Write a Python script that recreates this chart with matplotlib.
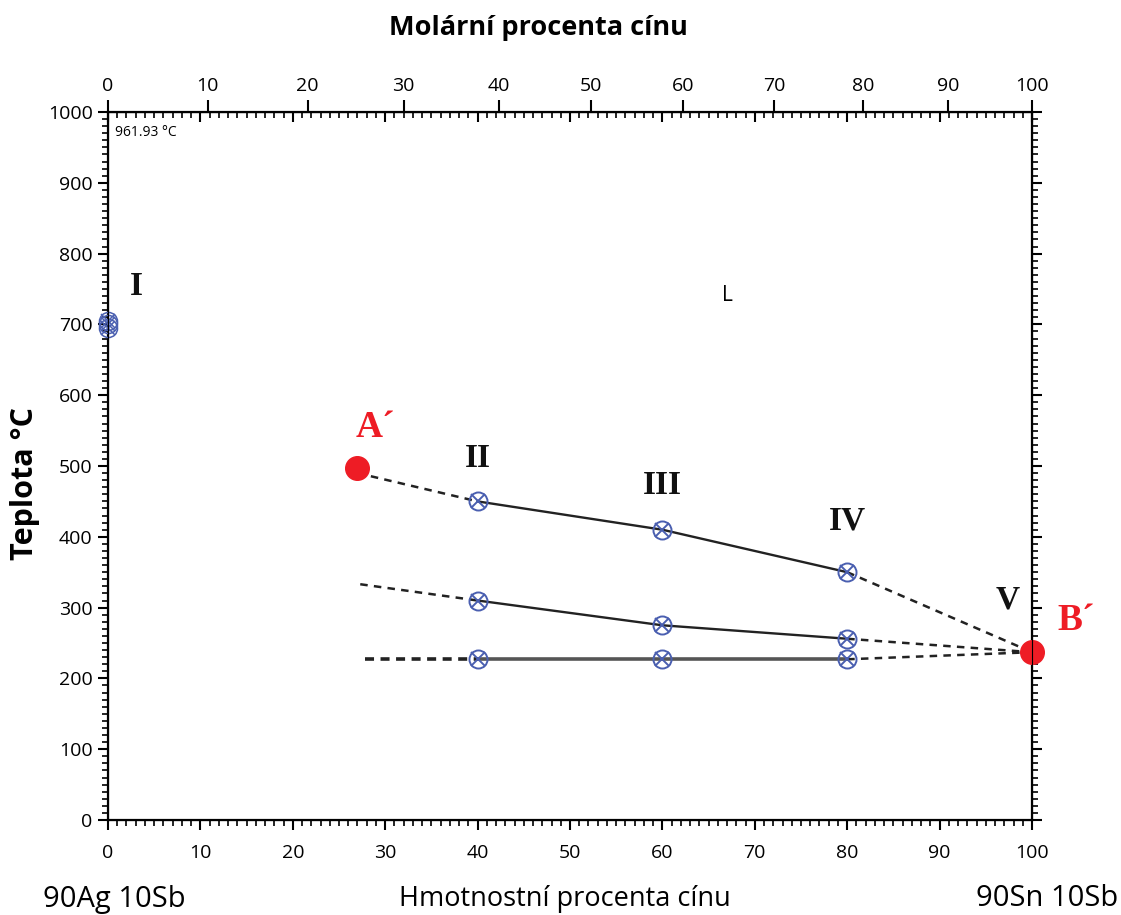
import matplotlib.pyplot as plt
from matplotlib.ticker import MultipleLocator

# hmotnostni procenta cinu (dolni osa) a teploty
horni_x = [40, 60, 80]
horni_y = [450, 410, 350]
stredni_x = [40, 60, 80]
stredni_y = [310, 275, 256]
dolni_x = [40, 60, 80]
dolni_y = [227, 227, 227]

# prodlouzeni (carkovane)
horni_zac = (27, 490)
stredni_zac = (27.3, 333)
dolni_zac = (27.8, 227)

bod_A = (26.9, 497)
bod_B = (100, 237)
bod_I = (0, 700)

# polohy znacek molarnich procent na hmotnostni stupnici
molar_pozice = [0, 10.8, 21.6, 32.0, 42.3, 52.3, 62.2, 72.1, 81.7, 90.9, 100]
molar_popisky = ['0', '10', '20', '30', '40', '50', '60', '70', '80', '90', '100']

plt.rcParams['font.family'] = ['Open Sans', 'DejaVu Sans']

fig = plt.figure(figsize=(11.21, 9.15), dpi=100)
ax = fig.add_axes([108 / 1121, 95 / 915, 924 / 1121, 708 / 915])

ax.set_xlim(0, 100)
ax.set_ylim(0, 1000)

cara = '#222222'
modra = '#4a5fb0'

# plne useky
ax.plot(horni_x, horni_y, color=cara, lw=1.7, zorder=2)
ax.plot(stredni_x, stredni_y, color=cara, lw=1.7, zorder=2)
ax.plot(dolni_x, dolni_y, color='#555555', lw=2.6, zorder=2)

# carkovane useky
ax.plot([horni_zac[0], horni_x[0]], [horni_zac[1], horni_y[0]], color=cara, lw=1.8, dashes=(3, 2.5))
ax.plot([stredni_zac[0], stredni_x[0]], [stredni_zac[1], stredni_y[0]], color=cara, lw=1.8, dashes=(3, 2.5))
ax.plot([dolni_zac[0], dolni_x[0]], [dolni_zac[1], dolni_y[0]], color=cara, lw=2.6, dashes=(2.5, 1.8))
ax.plot([horni_x[-1], bod_B[0]], [horni_y[-1], bod_B[1]], color=cara, lw=1.8, dashes=(3, 2.5))
ax.plot([stredni_x[-1], bod_B[0]], [stredni_y[-1], bod_B[1]], color=cara, lw=1.8, dashes=(3, 2.5))
ax.plot([dolni_x[-1], bod_B[0]], [dolni_y[-1], bod_B[1]], color=cara, lw=1.8, dashes=(3, 2.5))

# namerene body
for xs, ys in [(horni_x, horni_y), (stredni_x, stredni_y), (dolni_x, dolni_y)]:
    ax.plot(xs, ys, 'o', ms=13, mfc='none', mec=modra, mew=1.4, zorder=3, clip_on=False)
    ax.plot(xs, ys, 'x', ms=10, mec=modra, mew=1.4, zorder=3, clip_on=False)
for dy in (-5, 0, 5):
    ax.plot(bod_I[0], bod_I[1] + dy, 'o', ms=13, mfc='none', mec=modra, mew=1.1, zorder=3, clip_on=False)
    ax.plot(bod_I[0], bod_I[1] + dy, 'x', ms=10, mec=modra, mew=1.1, zorder=3, clip_on=False)

ax.plot(*bod_A, 'o', ms=17, color='#ee1c25', zorder=4, clip_on=False)
ax.plot(*bod_B, 'o', ms=17, color='#ee1c25', zorder=4, clip_on=False)

# popisky
serif = dict(family='Liberation Serif', fontweight='bold', ha='center', va='center')
ax.text(3.1, 753, 'I', fontsize=24, color='#111111', **serif)
ax.text(40, 511, 'II', fontsize=24, color='#111111', **serif)
ax.text(60, 473, 'III', fontsize=24, color='#111111', **serif)
ax.text(80, 422, 'IV', fontsize=24, color='#111111', **serif)
ax.text(97.4, 311, 'V', fontsize=24, color='#111111', **serif)
ax.text(28.9, 554, 'A\u00b4', fontsize=27, color='#ee1c25', clip_on=False, **serif)
ax.text(104.8, 282, 'B\u00b4', fontsize=27, color='#ee1c25', clip_on=False, **serif)
ax.text(67, 741, 'L', fontsize=15, ha='center', va='center')
ax.text(0.8, 971, '961.93 \u00b0C', fontsize=10, ha='left', va='center')

# osy
for s in ax.spines.values():
    s.set_linewidth(1.6)
ax.xaxis.set_major_locator(MultipleLocator(10))
ax.xaxis.set_minor_locator(MultipleLocator(1))
ax.yaxis.set_major_locator(MultipleLocator(100))
ax.yaxis.set_minor_locator(MultipleLocator(10))
ax.tick_params(axis='both', which='major', direction='out', length=7, width=1.5, labelsize=14)
ax.tick_params(axis='x', which='major', pad=10)
ax.tick_params(axis='y', which='major', pad=4)
ax.tick_params(axis='both', which='minor', direction='out', length=4, width=1.2)
ax.tick_params(axis='y', which='both', left=True, right=True)

# horni vnitrni znacky (hmotnostni)
ax2 = ax.twiny()
ax2.set_xlim(0, 100)
ax2.xaxis.set_major_locator(MultipleLocator(10))
ax2.xaxis.set_minor_locator(MultipleLocator(1))
ax2.tick_params(axis='x', which='major', direction='in', length=7, width=1.5, labeltop=False)
ax2.tick_params(axis='x', which='minor', direction='in', length=4, width=1.2)

# horni molarni stupnice
ax3 = ax.secondary_xaxis('top')
ax3.set_xticks(molar_pozice, molar_popisky)
ax3.tick_params(axis='x', which='major', direction='out', length=9, width=1.5, labelsize=14, pad=3)
ax3.tick_params(axis='x', which='minor', length=0)

fig.text(538 / 1121, 1 - 28 / 915, 'Molární procenta cínu', fontsize=19.5, fontweight='bold', ha='center', va='center')
fig.text(565 / 1121, 1 - 899 / 915, 'Hmotnostní procenta cínu', fontsize=19.5, ha='center', va='center')
fig.text(114 / 1121, 1 - 899 / 915, '90Ag 10Sb', fontsize=21, ha='center', va='center')
fig.text(1047 / 1121, 1 - 899 / 915, '90Sn 10Sb', fontsize=21, ha='center', va='center')
fig.text(25 / 1121, 1 - 483 / 915, 'Teplota °C', fontsize=22, fontweight='bold', rotation=90, ha='center', va='center')

fig.savefig('out.png', dpi=100)
